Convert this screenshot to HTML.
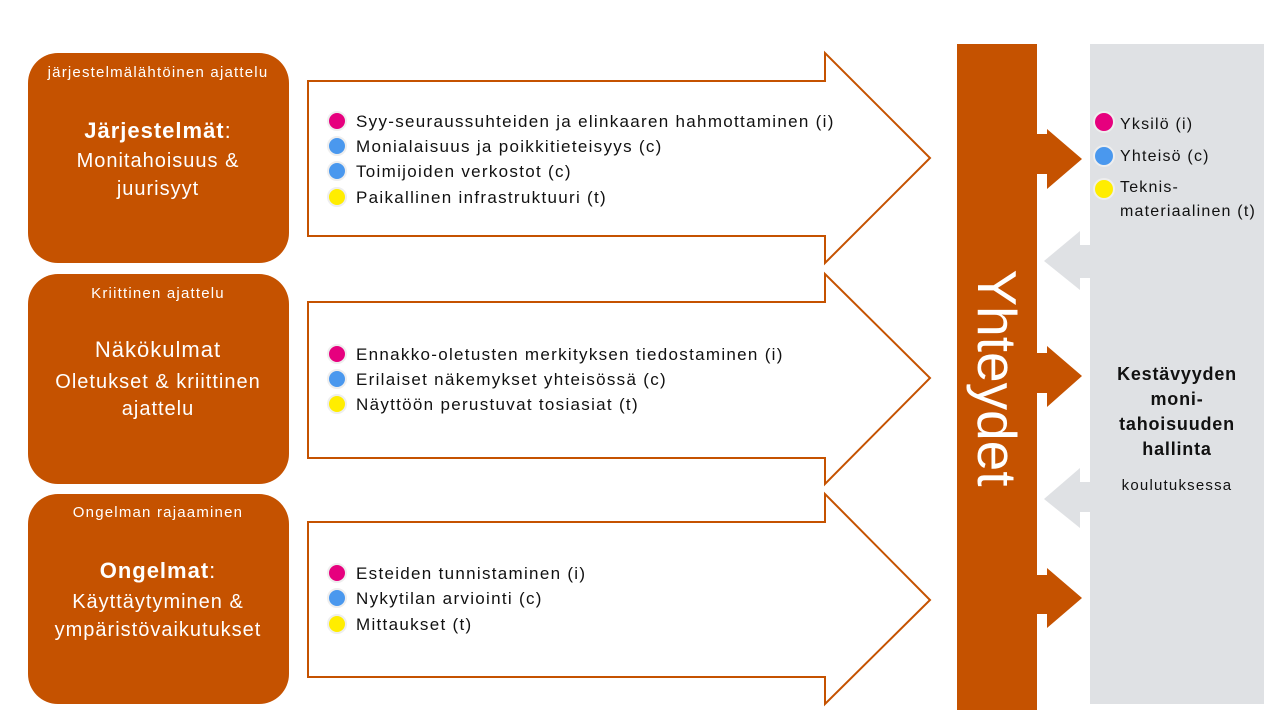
<!DOCTYPE html>
<html><head><meta charset="utf-8"><style>
html,body{margin:0;padding:0;background:#fff;width:1280px;height:720px;overflow:hidden}
text{font-family:"Liberation Sans","DejaVu Sans",sans-serif}
</style></head><body>
<svg width="1280" height="720" viewBox="0 0 1280 720" xmlns="http://www.w3.org/2000/svg">
<g fill="#C55200">
<rect x="28" y="53" width="261" height="210" rx="30"/>
<rect x="28" y="274" width="261" height="210" rx="30"/>
<rect x="28" y="494" width="261" height="210" rx="30"/>
<rect x="957" y="44" width="80" height="666"/>
<polygon points="1037,134 1047,134 1047,129 1082,159 1047,189 1047,174 1037,174"/>
<polygon points="1037,353 1047,353 1047,346 1082,376 1047,407 1047,393 1037,393"/>
<polygon points="1037,575 1047,575 1047,568 1082,598 1047,628 1047,614 1037,614"/>
</g>
<rect x="1090" y="44" width="174" height="660" fill="#DFE1E4"/>
<g fill="#DFE1E4">
<polygon points="1090,245 1080,245 1080,231 1044,261 1080,290 1080,278 1090,278"/>
<polygon points="1090,482 1080,482 1080,468 1044,499 1080,528 1080,512 1090,512"/>
</g>
<g fill="#fff" stroke="#C55200" stroke-width="2">
<polygon points="308,81 825,81 825,53 930,158 825,263 825,236 308,236"/>
<polygon points="308,302 825,302 825,274 930,378 825,484 825,458 308,458"/>
<polygon points="308,522 825,522 825,494 930,600 825,704 825,677 308,677"/>
</g>
<g fill="#fff" text-anchor="middle">
<g font-size="15" letter-spacing="1.2">
<text x="158" y="77">järjestelmälähtöinen ajattelu</text>
<text x="158" y="298">Kriittinen ajattelu</text>
<text x="158" y="517">Ongelman rajaaminen</text>
</g>
<g letter-spacing="1">
<text x="158" y="138" font-size="22" font-weight="bold">Järjestelmät<tspan font-weight="normal">:</tspan></text>
<text x="158" y="167" font-size="20">Monitahoisuus &amp;</text>
<text x="158" y="195" font-size="20">juurisyyt</text>
<text x="158" y="357" font-size="22">Näkökulmat</text>
<text x="158" y="388" font-size="20">Oletukset &amp; kriittinen</text>
<text x="158" y="415" font-size="20">ajattelu</text>
<text x="158" y="578" font-size="22" font-weight="bold">Ongelmat<tspan font-weight="normal">:</tspan></text>
<text x="158" y="608" font-size="20">Käyttäytyminen &amp;</text>
<text x="158" y="636" font-size="20">ympäristövaikutukset</text>
</g>
<text transform="translate(978,378) rotate(90)" font-size="55">Yhteydet</text>
</g>
<g stroke="#eee" stroke-width="2">
<circle cx="337" cy="121" r="9" fill="#E6007E"/>
<circle cx="337" cy="146" r="9" fill="#4A98EE"/>
<circle cx="337" cy="171" r="9" fill="#4A98EE"/>
<circle cx="337" cy="197" r="9" fill="#FFED00"/>
<circle cx="337" cy="354" r="9" fill="#E6007E"/>
<circle cx="337" cy="379" r="9" fill="#4A98EE"/>
<circle cx="337" cy="404" r="9" fill="#FFED00"/>
<circle cx="337" cy="573" r="9" fill="#E6007E"/>
<circle cx="337" cy="598" r="9" fill="#4A98EE"/>
<circle cx="337" cy="624" r="9" fill="#FFED00"/>
<circle cx="1104" cy="122" r="10" fill="#E6007E"/>
<circle cx="1104" cy="156" r="10" fill="#4A98EE"/>
<circle cx="1104" cy="189" r="10" fill="#FFED00"/>
</g>
<g fill="#111" font-size="17" letter-spacing="1.3">
<text x="356" y="127">Syy-seuraussuhteiden ja elinkaaren hahmottaminen (i)</text>
<text x="356" y="152">Monialaisuus ja poikkitieteisyys (c)</text>
<text x="356" y="177">Toimijoiden verkostot (c)</text>
<text x="356" y="203">Paikallinen infrastruktuuri (t)</text>
<text x="356" y="360">Ennakko-oletusten merkityksen tiedostaminen (i)</text>
<text x="356" y="385">Erilaiset näkemykset yhteisössä (c)</text>
<text x="356" y="410">Näyttöön perustuvat tosiasiat (t)</text>
<text x="356" y="579">Esteiden tunnistaminen (i)</text>
<text x="356" y="604">Nykytilan arviointi (c)</text>
<text x="356" y="630">Mittaukset (t)</text>
</g>
<g fill="#111" font-size="16" letter-spacing="1.2">
<text x="1120" y="129">Yksilö (i)</text>
<text x="1120" y="161">Yhteisö (c)</text>
<text x="1120" y="192">Teknis-</text>
<text x="1120" y="216">materiaalinen (t)</text>
</g>
<g fill="#111" text-anchor="middle" letter-spacing="0.8">
<text x="1177" y="380" font-size="18" font-weight="bold">Kestävyyden</text>
<text x="1177" y="405" font-size="18" font-weight="bold">moni-</text>
<text x="1177" y="430" font-size="18" font-weight="bold">tahoisuuden</text>
<text x="1177" y="455" font-size="18" font-weight="bold">hallinta</text>
<text x="1177" y="490" font-size="15" letter-spacing="1.2">koulutuksessa</text>
</g>
</svg>
</body></html>
